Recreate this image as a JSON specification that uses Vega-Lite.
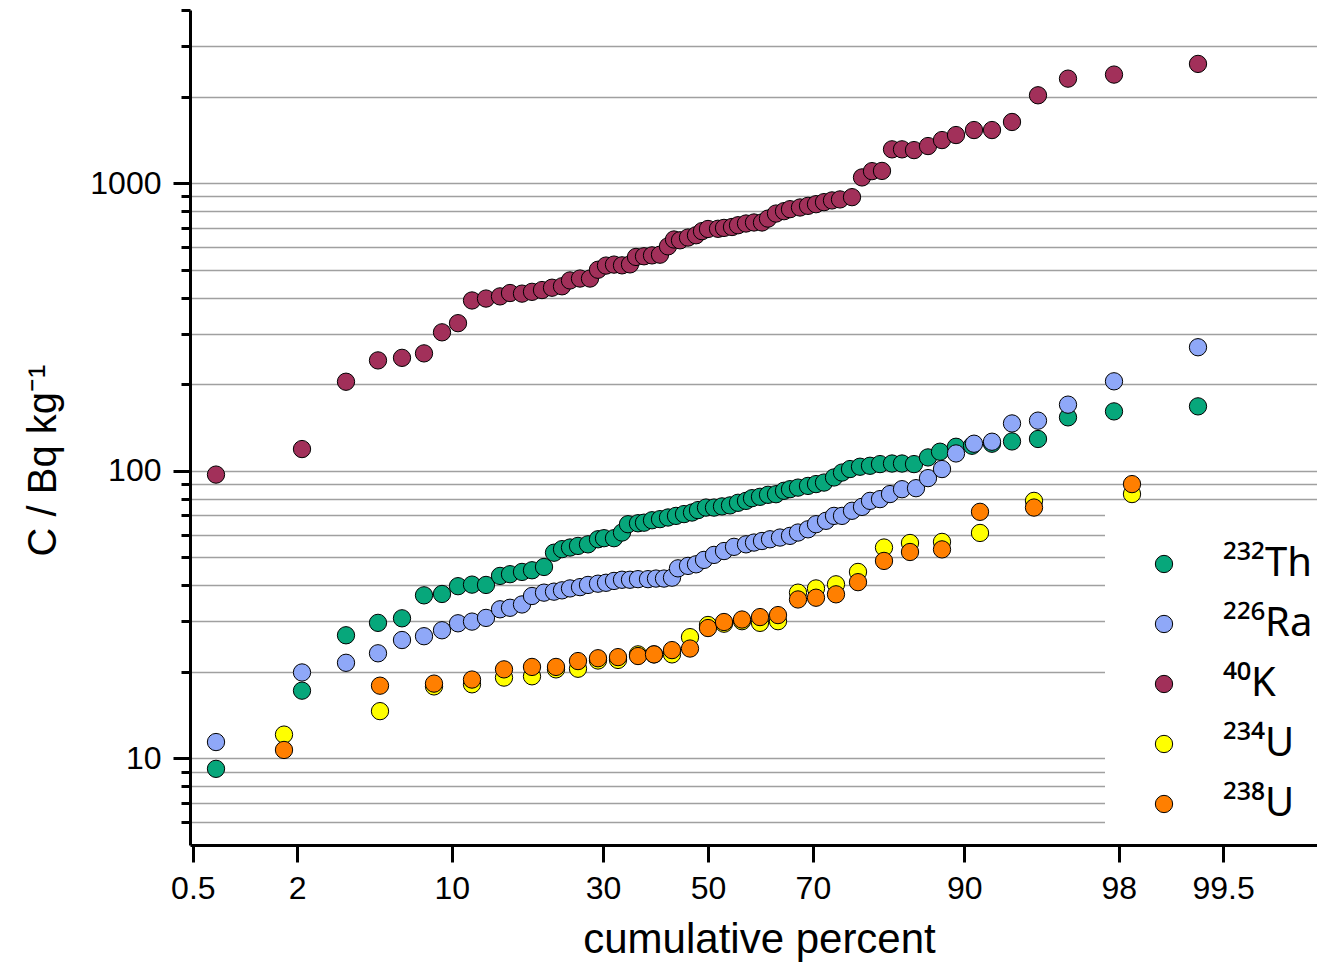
{
"$schema": "https://vega.github.io/schema/vega-lite/v6.json",
"width": 1127, "height": 835,
"autosize": {"type": "none"},
"padding": {"left": 190, "top": 10, "right": 0, "bottom": 118},
"background": "white",
"config": {"view": {"stroke": null}, "font": "Liberation Sans"},
"data": {"values": [
{"nuclide":"²³²Th","z":-2.46,"C":9.2},{"nuclide":"²³²Th","z":-2.03,"C":17.2},{"nuclide":"²³²Th","z":-1.81,"C":26.8},{"nuclide":"²³²Th","z":-1.65,"C":29.6},{"nuclide":"²³²Th","z":-1.53,"C":30.7},{"nuclide":"²³²Th","z":-1.42,"C":36.9},{"nuclide":"²³²Th","z":-1.33,"C":37.3},{"nuclide":"²³²Th","z":-1.25,"C":39.7},{"nuclide":"²³²Th","z":-1.18,"C":40.2},{"nuclide":"²³²Th","z":-1.11,"C":40.1},{"nuclide":"²³²Th","z":-1.04,"C":43.1},{"nuclide":"²³²Th","z":-0.99,"C":43.7},{"nuclide":"²³²Th","z":-0.93,"C":44.5},{"nuclide":"²³²Th","z":-0.88,"C":45.1},{"nuclide":"²³²Th","z":-0.82,"C":46.3},{"nuclide":"²³²Th","z":-0.77,"C":51.9},{"nuclide":"²³²Th","z":-0.73,"C":53.4},{"nuclide":"²³²Th","z":-0.69,"C":54.1},{"nuclide":"²³²Th","z":-0.65,"C":54.8},{"nuclide":"²³²Th","z":-0.60,"C":55.5},{"nuclide":"²³²Th","z":-0.55,"C":57.8},{"nuclide":"²³²Th","z":-0.52,"C":58.3},{"nuclide":"²³²Th","z":-0.47,"C":58.3},{"nuclide":"²³²Th","z":-0.43,"C":61.0},{"nuclide":"²³²Th","z":-0.40,"C":65.2},{"nuclide":"²³²Th","z":-0.35,"C":65.7},{"nuclide":"²³²Th","z":-0.32,"C":66.0},{"nuclide":"²³²Th","z":-0.28,"C":67.3},{"nuclide":"²³²Th","z":-0.24,"C":67.9},{"nuclide":"²³²Th","z":-0.20,"C":68.8},{"nuclide":"²³²Th","z":-0.16,"C":69.7},{"nuclide":"²³²Th","z":-0.12,"C":70.7},{"nuclide":"²³²Th","z":-0.08,"C":71.6},{"nuclide":"²³²Th","z":-0.05,"C":73.0},{"nuclide":"²³²Th","z":-0.01,"C":74.5},{"nuclide":"²³²Th","z":0.03,"C":74.5},{"nuclide":"²³²Th","z":0.07,"C":75.2},{"nuclide":"²³²Th","z":0.11,"C":75.8},{"nuclide":"²³²Th","z":0.15,"C":77.4},{"nuclide":"²³²Th","z":0.19,"C":78.6},{"nuclide":"²³²Th","z":0.22,"C":80.3},{"nuclide":"²³²Th","z":0.26,"C":81.2},{"nuclide":"²³²Th","z":0.30,"C":82.5},{"nuclide":"²³²Th","z":0.34,"C":82.9},{"nuclide":"²³²Th","z":0.38,"C":85.2},{"nuclide":"²³²Th","z":0.41,"C":86.3},{"nuclide":"²³²Th","z":0.45,"C":87.4},{"nuclide":"²³²Th","z":0.50,"C":88.6},{"nuclide":"²³²Th","z":0.54,"C":89.9},{"nuclide":"²³²Th","z":0.58,"C":91.0},{"nuclide":"²³²Th","z":0.63,"C":94.8},{"nuclide":"²³²Th","z":0.67,"C":98.6},{"nuclide":"²³²Th","z":0.71,"C":101.4},{"nuclide":"²³²Th","z":0.76,"C":103.3},{"nuclide":"²³²Th","z":0.81,"C":104.1},{"nuclide":"²³²Th","z":0.86,"C":105.5},{"nuclide":"²³²Th","z":0.92,"C":106},{"nuclide":"²³²Th","z":0.97,"C":106},{"nuclide":"²³²Th","z":1.03,"C":105.5},{"nuclide":"²³²Th","z":1.10,"C":111.3},{"nuclide":"²³²Th","z":1.16,"C":116.5},{"nuclide":"²³²Th","z":1.24,"C":121.2},{"nuclide":"²³²Th","z":1.32,"C":122.2},{"nuclide":"²³²Th","z":1.42,"C":124.2},{"nuclide":"²³²Th","z":1.52,"C":126.5},{"nuclide":"²³²Th","z":1.65,"C":129},{"nuclide":"²³²Th","z":1.80,"C":153.4},{"nuclide":"²³²Th","z":2.03,"C":160.9},{"nuclide":"²³²Th","z":2.45,"C":167.5},
{"nuclide":"²²⁶Ra","z":-2.46,"C":11.4},{"nuclide":"²²⁶Ra","z":-2.03,"C":19.9},{"nuclide":"²²⁶Ra","z":-1.81,"C":21.5},{"nuclide":"²²⁶Ra","z":-1.65,"C":23.2},{"nuclide":"²²⁶Ra","z":-1.53,"C":25.8},{"nuclide":"²²⁶Ra","z":-1.42,"C":26.6},{"nuclide":"²²⁶Ra","z":-1.33,"C":27.9},{"nuclide":"²²⁶Ra","z":-1.25,"C":29.5},{"nuclide":"²²⁶Ra","z":-1.18,"C":29.9},{"nuclide":"²²⁶Ra","z":-1.11,"C":30.8},{"nuclide":"²²⁶Ra","z":-1.04,"C":33.0},{"nuclide":"²²⁶Ra","z":-0.99,"C":33.4},{"nuclide":"²²⁶Ra","z":-0.93,"C":34.3},{"nuclide":"²²⁶Ra","z":-0.88,"C":36.7},{"nuclide":"²²⁶Ra","z":-0.82,"C":37.7},{"nuclide":"²²⁶Ra","z":-0.77,"C":38.0},{"nuclide":"²²⁶Ra","z":-0.73,"C":38.4},{"nuclide":"²²⁶Ra","z":-0.69,"C":39.0},{"nuclide":"²²⁶Ra","z":-0.64,"C":39.4},{"nuclide":"²²⁶Ra","z":-0.60,"C":40.1},{"nuclide":"²²⁶Ra","z":-0.55,"C":40.5},{"nuclide":"²²⁶Ra","z":-0.51,"C":40.8},{"nuclide":"²²⁶Ra","z":-0.47,"C":41.4},{"nuclide":"²²⁶Ra","z":-0.43,"C":41.8},{"nuclide":"²²⁶Ra","z":-0.39,"C":41.8},{"nuclide":"²²⁶Ra","z":-0.35,"C":42.0},{"nuclide":"²²⁶Ra","z":-0.30,"C":42.0},{"nuclide":"²²⁶Ra","z":-0.26,"C":42.2},{"nuclide":"²²⁶Ra","z":-0.22,"C":42.2},{"nuclide":"²²⁶Ra","z":-0.18,"C":42.5},{"nuclide":"²²⁶Ra","z":-0.15,"C":45.8},{"nuclide":"²²⁶Ra","z":-0.10,"C":46.7},{"nuclide":"²²⁶Ra","z":-0.06,"C":47.3},{"nuclide":"²²⁶Ra","z":-0.02,"C":49.0},{"nuclide":"²²⁶Ra","z":0.03,"C":51.0},{"nuclide":"²²⁶Ra","z":0.08,"C":52.6},{"nuclide":"²²⁶Ra","z":0.13,"C":54.4},{"nuclide":"²²⁶Ra","z":0.19,"C":55.5},{"nuclide":"²²⁶Ra","z":0.23,"C":56.3},{"nuclide":"²²⁶Ra","z":0.27,"C":57.0},{"nuclide":"²²⁶Ra","z":0.31,"C":57.8},{"nuclide":"²²⁶Ra","z":0.36,"C":58.6},{"nuclide":"²²⁶Ra","z":0.41,"C":59.4},{"nuclide":"²²⁶Ra","z":0.45,"C":61.0},{"nuclide":"²²⁶Ra","z":0.50,"C":62.6},{"nuclide":"²²⁶Ra","z":0.54,"C":65.2},{"nuclide":"²²⁶Ra","z":0.59,"C":67.0},{"nuclide":"²²⁶Ra","z":0.63,"C":69.7},{"nuclide":"²²⁶Ra","z":0.67,"C":69.7},{"nuclide":"²²⁶Ra","z":0.72,"C":72.6},{"nuclide":"²²⁶Ra","z":0.77,"C":74.9},{"nuclide":"²²⁶Ra","z":0.81,"C":78.6},{"nuclide":"²²⁶Ra","z":0.86,"C":79.7},{"nuclide":"²²⁶Ra","z":0.91,"C":83.0},{"nuclide":"²²⁶Ra","z":0.97,"C":86.3},{"nuclide":"²²⁶Ra","z":1.04,"C":87.0},{"nuclide":"²²⁶Ra","z":1.10,"C":94.3},{"nuclide":"²²⁶Ra","z":1.17,"C":101.4},{"nuclide":"²²⁶Ra","z":1.24,"C":114.9},{"nuclide":"²²⁶Ra","z":1.33,"C":124.2},{"nuclide":"²²⁶Ra","z":1.42,"C":126.2},{"nuclide":"²²⁶Ra","z":1.52,"C":146.1},{"nuclide":"²²⁶Ra","z":1.65,"C":149.4},{"nuclide":"²²⁶Ra","z":1.80,"C":169.8},{"nuclide":"²²⁶Ra","z":2.03,"C":204.7},{"nuclide":"²²⁶Ra","z":2.45,"C":268.9},
{"nuclide":"⁴⁰K","z":-2.46,"C":97},{"nuclide":"⁴⁰K","z":-2.03,"C":119},{"nuclide":"⁴⁰K","z":-1.81,"C":204},{"nuclide":"⁴⁰K","z":-1.65,"C":242},{"nuclide":"⁴⁰K","z":-1.53,"C":247},{"nuclide":"⁴⁰K","z":-1.42,"C":256},{"nuclide":"⁴⁰K","z":-1.33,"C":303},{"nuclide":"⁴⁰K","z":-1.25,"C":326},{"nuclide":"⁴⁰K","z":-1.18,"C":391},{"nuclide":"⁴⁰K","z":-1.11,"C":397},{"nuclide":"⁴⁰K","z":-1.04,"C":404},{"nuclide":"⁴⁰K","z":-0.99,"C":415},{"nuclide":"⁴⁰K","z":-0.93,"C":413},{"nuclide":"⁴⁰K","z":-0.88,"C":419},{"nuclide":"⁴⁰K","z":-0.83,"C":425},{"nuclide":"⁴⁰K","z":-0.78,"C":433},{"nuclide":"⁴⁰K","z":-0.73,"C":438},{"nuclide":"⁴⁰K","z":-0.69,"C":459},{"nuclide":"⁴⁰K","z":-0.64,"C":466},{"nuclide":"⁴⁰K","z":-0.59,"C":466},{"nuclide":"⁴⁰K","z":-0.55,"C":500},{"nuclide":"⁴⁰K","z":-0.51,"C":517},{"nuclide":"⁴⁰K","z":-0.47,"C":521},{"nuclide":"⁴⁰K","z":-0.43,"C":518},{"nuclide":"⁴⁰K","z":-0.39,"C":522},{"nuclide":"⁴⁰K","z":-0.36,"C":554},{"nuclide":"⁴⁰K","z":-0.32,"C":557},{"nuclide":"⁴⁰K","z":-0.28,"C":561},{"nuclide":"⁴⁰K","z":-0.24,"C":564},{"nuclide":"⁴⁰K","z":-0.20,"C":603},{"nuclide":"⁴⁰K","z":-0.17,"C":637},{"nuclide":"⁴⁰K","z":-0.14,"C":633},{"nuclide":"⁴⁰K","z":-0.10,"C":647},{"nuclide":"⁴⁰K","z":-0.06,"C":659},{"nuclide":"⁴⁰K","z":-0.03,"C":681},{"nuclide":"⁴⁰K","z":0.00,"C":693},{"nuclide":"⁴⁰K","z":0.05,"C":694},{"nuclide":"⁴⁰K","z":0.08,"C":699},{"nuclide":"⁴⁰K","z":0.12,"C":704},{"nuclide":"⁴⁰K","z":0.15,"C":714},{"nuclide":"⁴⁰K","z":0.19,"C":724},{"nuclide":"⁴⁰K","z":0.23,"C":730},{"nuclide":"⁴⁰K","z":0.27,"C":730},{"nuclide":"⁴⁰K","z":0.30,"C":753},{"nuclide":"⁴⁰K","z":0.34,"C":784},{"nuclide":"⁴⁰K","z":0.38,"C":799},{"nuclide":"⁴⁰K","z":0.41,"C":812},{"nuclide":"⁴⁰K","z":0.46,"C":823},{"nuclide":"⁴⁰K","z":0.50,"C":834},{"nuclide":"⁴⁰K","z":0.54,"C":845},{"nuclide":"⁴⁰K","z":0.58,"C":859},{"nuclide":"⁴⁰K","z":0.62,"C":871},{"nuclide":"⁴⁰K","z":0.66,"C":878},{"nuclide":"⁴⁰K","z":0.72,"C":894},{"nuclide":"⁴⁰K","z":0.77,"C":1047},{"nuclide":"⁴⁰K","z":0.82,"C":1101},{"nuclide":"⁴⁰K","z":0.87,"C":1103},{"nuclide":"⁴⁰K","z":0.92,"C":1311},{"nuclide":"⁴⁰K","z":0.97,"C":1311},{"nuclide":"⁴⁰K","z":1.03,"C":1303},{"nuclide":"⁴⁰K","z":1.10,"C":1346},{"nuclide":"⁴⁰K","z":1.17,"C":1412},{"nuclide":"⁴⁰K","z":1.24,"C":1470},{"nuclide":"⁴⁰K","z":1.33,"C":1530},{"nuclide":"⁴⁰K","z":1.42,"C":1530},{"nuclide":"⁴⁰K","z":1.52,"C":1632},{"nuclide":"⁴⁰K","z":1.65,"C":2021},{"nuclide":"⁴⁰K","z":1.80,"C":2309},{"nuclide":"⁴⁰K","z":2.03,"C":2385},{"nuclide":"⁴⁰K","z":2.45,"C":2598},
{"nuclide":"²³⁴U","z":-2.12,"C":12.1},{"nuclide":"²³⁴U","z":-1.64,"C":14.6},{"nuclide":"²³⁴U","z":-1.37,"C":17.8},{"nuclide":"²³⁴U","z":-1.18,"C":18.1},{"nuclide":"²³⁴U","z":-1.02,"C":19.1},{"nuclide":"²³⁴U","z":-0.88,"C":19.3},{"nuclide":"²³⁴U","z":-0.76,"C":20.4},{"nuclide":"²³⁴U","z":-0.65,"C":20.5},{"nuclide":"²³⁴U","z":-0.55,"C":21.9},{"nuclide":"²³⁴U","z":-0.45,"C":22.0},{"nuclide":"²³⁴U","z":-0.35,"C":23.0},{"nuclide":"²³⁴U","z":-0.27,"C":23.0},{"nuclide":"²³⁴U","z":-0.18,"C":23.0},{"nuclide":"²³⁴U","z":-0.09,"C":26.4},{"nuclide":"²³⁴U","z":0.00,"C":29.1},{"nuclide":"²³⁴U","z":0.08,"C":29.4},{"nuclide":"²³⁴U","z":0.17,"C":30.0},{"nuclide":"²³⁴U","z":0.26,"C":29.6},{"nuclide":"²³⁴U","z":0.35,"C":30.0},{"nuclide":"²³⁴U","z":0.45,"C":37.7},{"nuclide":"²³⁴U","z":0.54,"C":39.0},{"nuclide":"²³⁴U","z":0.64,"C":40.3},{"nuclide":"²³⁴U","z":0.75,"C":44.5},{"nuclide":"²³⁴U","z":0.88,"C":54.1},{"nuclide":"²³⁴U","z":1.01,"C":56.1},{"nuclide":"²³⁴U","z":1.17,"C":56.6},{"nuclide":"²³⁴U","z":1.36,"C":60.8},{"nuclide":"²³⁴U","z":1.63,"C":78.6},{"nuclide":"²³⁴U","z":2.12,"C":83.0},
{"nuclide":"²³⁸U","z":-2.12,"C":10.7},{"nuclide":"²³⁸U","z":-1.64,"C":17.9},{"nuclide":"²³⁸U","z":-1.37,"C":18.2},{"nuclide":"²³⁸U","z":-1.18,"C":18.8},{"nuclide":"²³⁸U","z":-1.02,"C":20.4},{"nuclide":"²³⁸U","z":-0.88,"C":20.8},{"nuclide":"²³⁸U","z":-0.76,"C":20.8},{"nuclide":"²³⁸U","z":-0.65,"C":21.8},{"nuclide":"²³⁸U","z":-0.55,"C":22.3},{"nuclide":"²³⁸U","z":-0.45,"C":22.5},{"nuclide":"²³⁸U","z":-0.35,"C":22.7},{"nuclide":"²³⁸U","z":-0.27,"C":23.0},{"nuclide":"²³⁸U","z":-0.18,"C":23.8},{"nuclide":"²³⁸U","z":-0.09,"C":24.1},{"nuclide":"²³⁸U","z":0.00,"C":28.4},{"nuclide":"²³⁸U","z":0.08,"C":29.8},{"nuclide":"²³⁸U","z":0.17,"C":30.4},{"nuclide":"²³⁸U","z":0.26,"C":31.0},{"nuclide":"²³⁸U","z":0.35,"C":31.5},{"nuclide":"²³⁸U","z":0.45,"C":35.7},{"nuclide":"²³⁸U","z":0.54,"C":36.2},{"nuclide":"²³⁸U","z":0.64,"C":37.2},{"nuclide":"²³⁸U","z":0.75,"C":41.0},{"nuclide":"²³⁸U","z":0.88,"C":48.6},{"nuclide":"²³⁸U","z":1.01,"C":52.2},{"nuclide":"²³⁸U","z":1.17,"C":53.3},{"nuclide":"²³⁸U","z":1.36,"C":72.0},{"nuclide":"²³⁸U","z":1.63,"C":74.5},{"nuclide":"²³⁸U","z":2.12,"C":89.9}
]},
"mark": {"type": "point", "shape": "circle", "filled": true, "size": 300, "stroke": "black", "strokeWidth": 1, "opacity": 1},
"encoding": {
  "x": {"field": "z", "type": "quantitative",
    "scale": {"domain": [-2.59, 3.045], "nice": false, "zero": false},
    "axis": {"title": "cumulative percent", "zindex": 1,
      "values": [-2.5758, -2.0537, -1.2816, -0.5244, 0, 0.5244, 1.2816, 2.0537, 2.5758],
      "labelExpr": "datum.value < -2.5 ? '0.5' : datum.value < -2 ? '2' : datum.value < -1 ? '10' : datum.value < -0.3 ? '30' : datum.value < 0.3 ? '50' : datum.value < 1 ? '70' : datum.value < 2 ? '90' : datum.value < 2.5 ? '98' : '99.5'",
      "grid": false, "domainColor": "black", "domainWidth": 3, "tickColor": "black", "tickWidth": 3, "tickSize": 17,
      "labelFont": "Liberation Sans", "labelFontSize": 32, "labelColor": "black", "labelPadding": 11, "labelFlush": false, "labelOverlap": false,
      "titleFont": "Liberation Sans", "titleFontSize": 42, "titleFontWeight": "normal", "titleColor": "black",
      "titleX": 569, "titleY": 107, "titleBaseline": "alphabetic", "titleAlign": "center"}},
  "y": {"field": "C", "type": "quantitative",
    "scale": {"type": "log", "domain": [5, 4000], "nice": false},
    "axis": {"title": "C / Bq kg⁻¹",
      "values": [6, 7, 8, 9, 10, 20, 30, 40, 50, 60, 70, 80, 90, 100, 200, 300, 400, 500, 600, 700, 800, 900, 1000, 2000, 3000, 4000],
      "labelExpr": "(datum.value == 10 || datum.value == 100 || datum.value == 1000) ? format(datum.value, 'd') : ''",
      "grid": true, "gridColor": "#a0a0a0", "gridWidth": 1.5,
      "gridOpacity": {"condition": {"test": "datum.value >= 4000", "value": 0}, "value": 1},
      "domainColor": "black", "domainWidth": 3, "tickColor": "black", "tickWidth": 3,
      "tickSize": {"condition": {"test": "datum.value == 10 || datum.value == 100 || datum.value == 1000", "value": 17}, "value": 9},
      "labelFont": "Liberation Sans", "labelFontSize": 32, "labelColor": "black", "labelPadding": 12, "labelOverlap": false,
      "titleFont": "Liberation Sans", "titleFontSize": 40, "titleFontWeight": "normal", "titleColor": "black",
      "titleX": -135, "titleY": 450, "titleAngle": -90, "titleBaseline": "alphabetic", "titleAlign": "center"}},
  "color": {"field": "nuclide", "type": "nominal",
    "scale": {"domain": ["²³²Th", "²²⁶Ra", "⁴⁰K", "²³⁴U", "²³⁸U"], "range": ["#07a77b", "#8fa8f8", "#a2305a", "#ffff00", "#ff7f00"]},
    "legend": {"title": null, "orient": "none", "legendX": 915, "legendY": 495, "fillColor": "white", "padding": 39,
      "symbolType": "circle", "symbolSize": 300, "symbolStrokeColor": "black", "symbolStrokeWidth": 1, "symbolOpacity": 1, "symbolOffset": 0,
      "labelExpr": "datum.label == '⁴⁰K' ? '\u00a0⁴⁰K' : datum.label",
      "labelFont": "Noto Sans", "labelFontSize": 40, "labelColor": "black", "labelOffset": 39, "labelLimit": 0, "rowPadding": 20}}
}
}
